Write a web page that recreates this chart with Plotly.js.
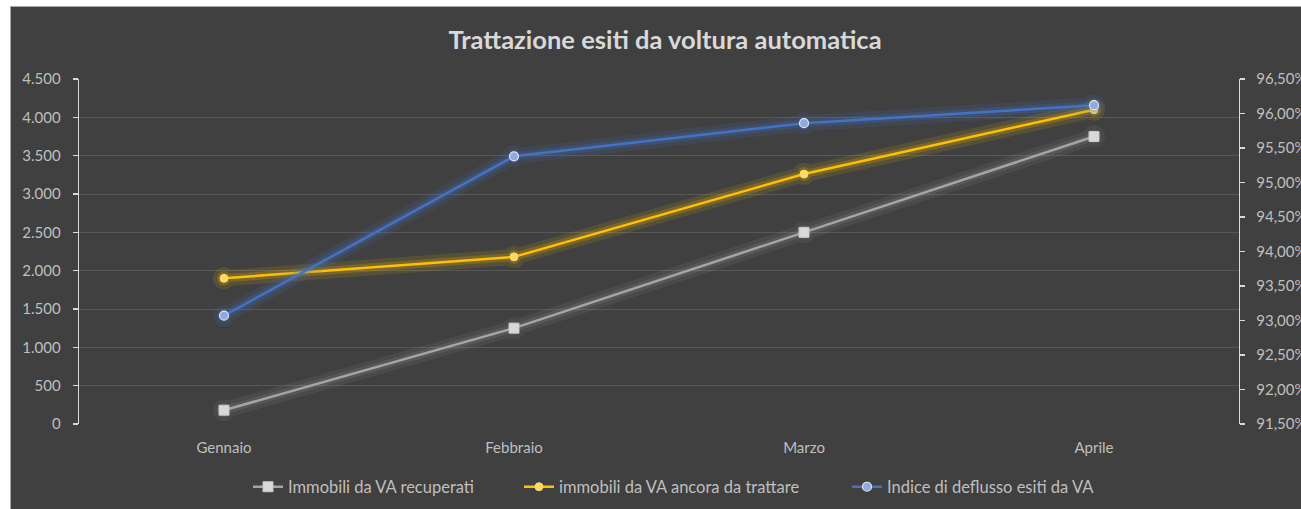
<!DOCTYPE html>
<html>
<head>
<meta charset="utf-8">
<script src="https://cdn.plot.ly/plotly-3.0.1.min.js"></script>
<style>
  html, body { margin: 0; padding: 0; background: #ffffff; width: 1301px; height: 509px; overflow: hidden; }
  #chart { position: absolute; left: 10px; top: 6px; width: 1290px; height: 502px;
           border-left: 1px solid #a6a6a6; border-top: 1px solid #a6a6a6; background: #404040; }
</style>
</head>
<body>
<div id="chart"></div>
<script>
const months = ["Gennaio", "Febbraio", "Marzo", "Aprile"];
const recuperati = [180, 1250, 2500, 3750];
const daTrattare = [1900, 2180, 3260, 4100];
const indiceDeflusso = [0.9307, 0.9538, 0.9586, 0.9612];
const seriesNames = ["Immobili da VA recuperati", "immobili da VA ancora da trattare", "Indice di deflusso esiti da VA"];

const fontFam = "Lato, Open Sans, sans-serif";
const tickCol = "#bfbfbf";

function glow(y, color, axis, w, op) {
  return {
    x: months, y: y, yaxis: axis, type: "scatter", mode: "lines+markers",
    line: { color: color, width: w, shape: "linear" },
    marker: { size: w + 6, color: color },
    opacity: op, showlegend: false, hoverinfo: "skip"
  };
}

const traces = [
  glow(recuperati, "#a5a5a5", "y", 16, 0.10),
  glow(daTrattare, "#ffc000", "y", 16, 0.12),
  glow(indiceDeflusso, "#4472c4", "y2", 16, 0.14),
  glow(recuperati, "#a5a5a5", "y", 8, 0.15),
  glow(daTrattare, "#ffc000", "y", 8, 0.2),
  glow(indiceDeflusso, "#4472c4", "y2", 8, 0.22),
  {
    x: months, y: recuperati, name: seriesNames[0], type: "scatter", mode: "lines+markers", legend: "legend",
    line: { color: "#a5a5a5", width: 2.5 },
    marker: { symbol: "square", size: 10, color: "#d9d9d9", line: { color: "#c8c8c8", width: 1 } }
  },
  {
    x: months, y: daTrattare, name: seriesNames[1], type: "scatter", mode: "lines+markers", legend: "legend2",
    line: { color: "#ffc000", width: 2.5 },
    marker: { symbol: "circle", size: 8, color: "#ffd966", line: { color: "#ffd966", width: 1 } }
  },
  {
    x: months, y: indiceDeflusso, name: seriesNames[2], yaxis: "y2", type: "scatter", mode: "lines+markers", legend: "legend3",
    line: { color: "#4472c4", width: 2.5 },
    marker: { symbol: "circle", size: 9, color: "#8faadc", line: { color: "#dfe7f5", width: 1.2 } }
  }
];

function legendAt(leftPx) {
  return {
    orientation: "h", xref: "container", yref: "container",
    x: (leftPx - 11) / 1290, xanchor: "left",
    y: 1 - (487 - 7) / 502, yanchor: "middle",
    font: { family: fontFam, size: 16.5, color: tickCol }, bgcolor: "rgba(0,0,0,0)"
  };
}

const layout = {
  width: 1290, height: 502,
  paper_bgcolor: "#404040", plot_bgcolor: "#404040",
  margin: { l: 68, r: 62, t: 72, b: 85 },
  separators: ",.",
  font: { family: fontFam, color: tickCol, size: 15 },
  title: {
    text: "<b>Trattazione esiti da voltura automatica</b>",
    font: { family: fontFam, size: 25.5, color: "#d9d9d9" },
    xref: "container", x: (665 - 11) / 1290, xanchor: "center", y: 1 - (33 / 502), yanchor: "middle"
  },
  xaxis: {
    type: "category", range: [-0.5, 3.5], showgrid: false, zeroline: false, showline: false,
    ticks: "", tickfont: { size: 15, color: tickCol }, ticklabelstandoff: 13
  },
  yaxis: {
    range: [0, 4500], dtick: 500, tickformat: ",d", showgrid: true, gridcolor: "#585858", gridwidth: 1,
    zeroline: false, showline: true, linecolor: "#d9d9d9", linewidth: 1.3,
    ticks: "outside", ticklen: 5, tickcolor: "#d9d9d9", tickwidth: 1.3,
    tickfont: { size: 15, color: tickCol }, ticklabelstandoff: 9
  },
  yaxis2: {
    overlaying: "y", side: "right", range: [0.915, 0.965], dtick: 0.005, tickformat: ".2%",
    showgrid: false, zeroline: false, showline: true, linecolor: "#d9d9d9", linewidth: 1.3,
    ticks: "outside", ticklen: 5, tickcolor: "#d9d9d9", tickwidth: 1.3,
    tickfont: { size: 15, color: tickCol }, ticklabelstandoff: 8
  },
  legend: legendAt(248),
  legend2: legendAt(519),
  legend3: legendAt(847),
  showlegend: true
};

Plotly.newPlot("chart", traces, layout, { displayModeBar: false, staticPlot: true });
</script>
</body>
</html>
